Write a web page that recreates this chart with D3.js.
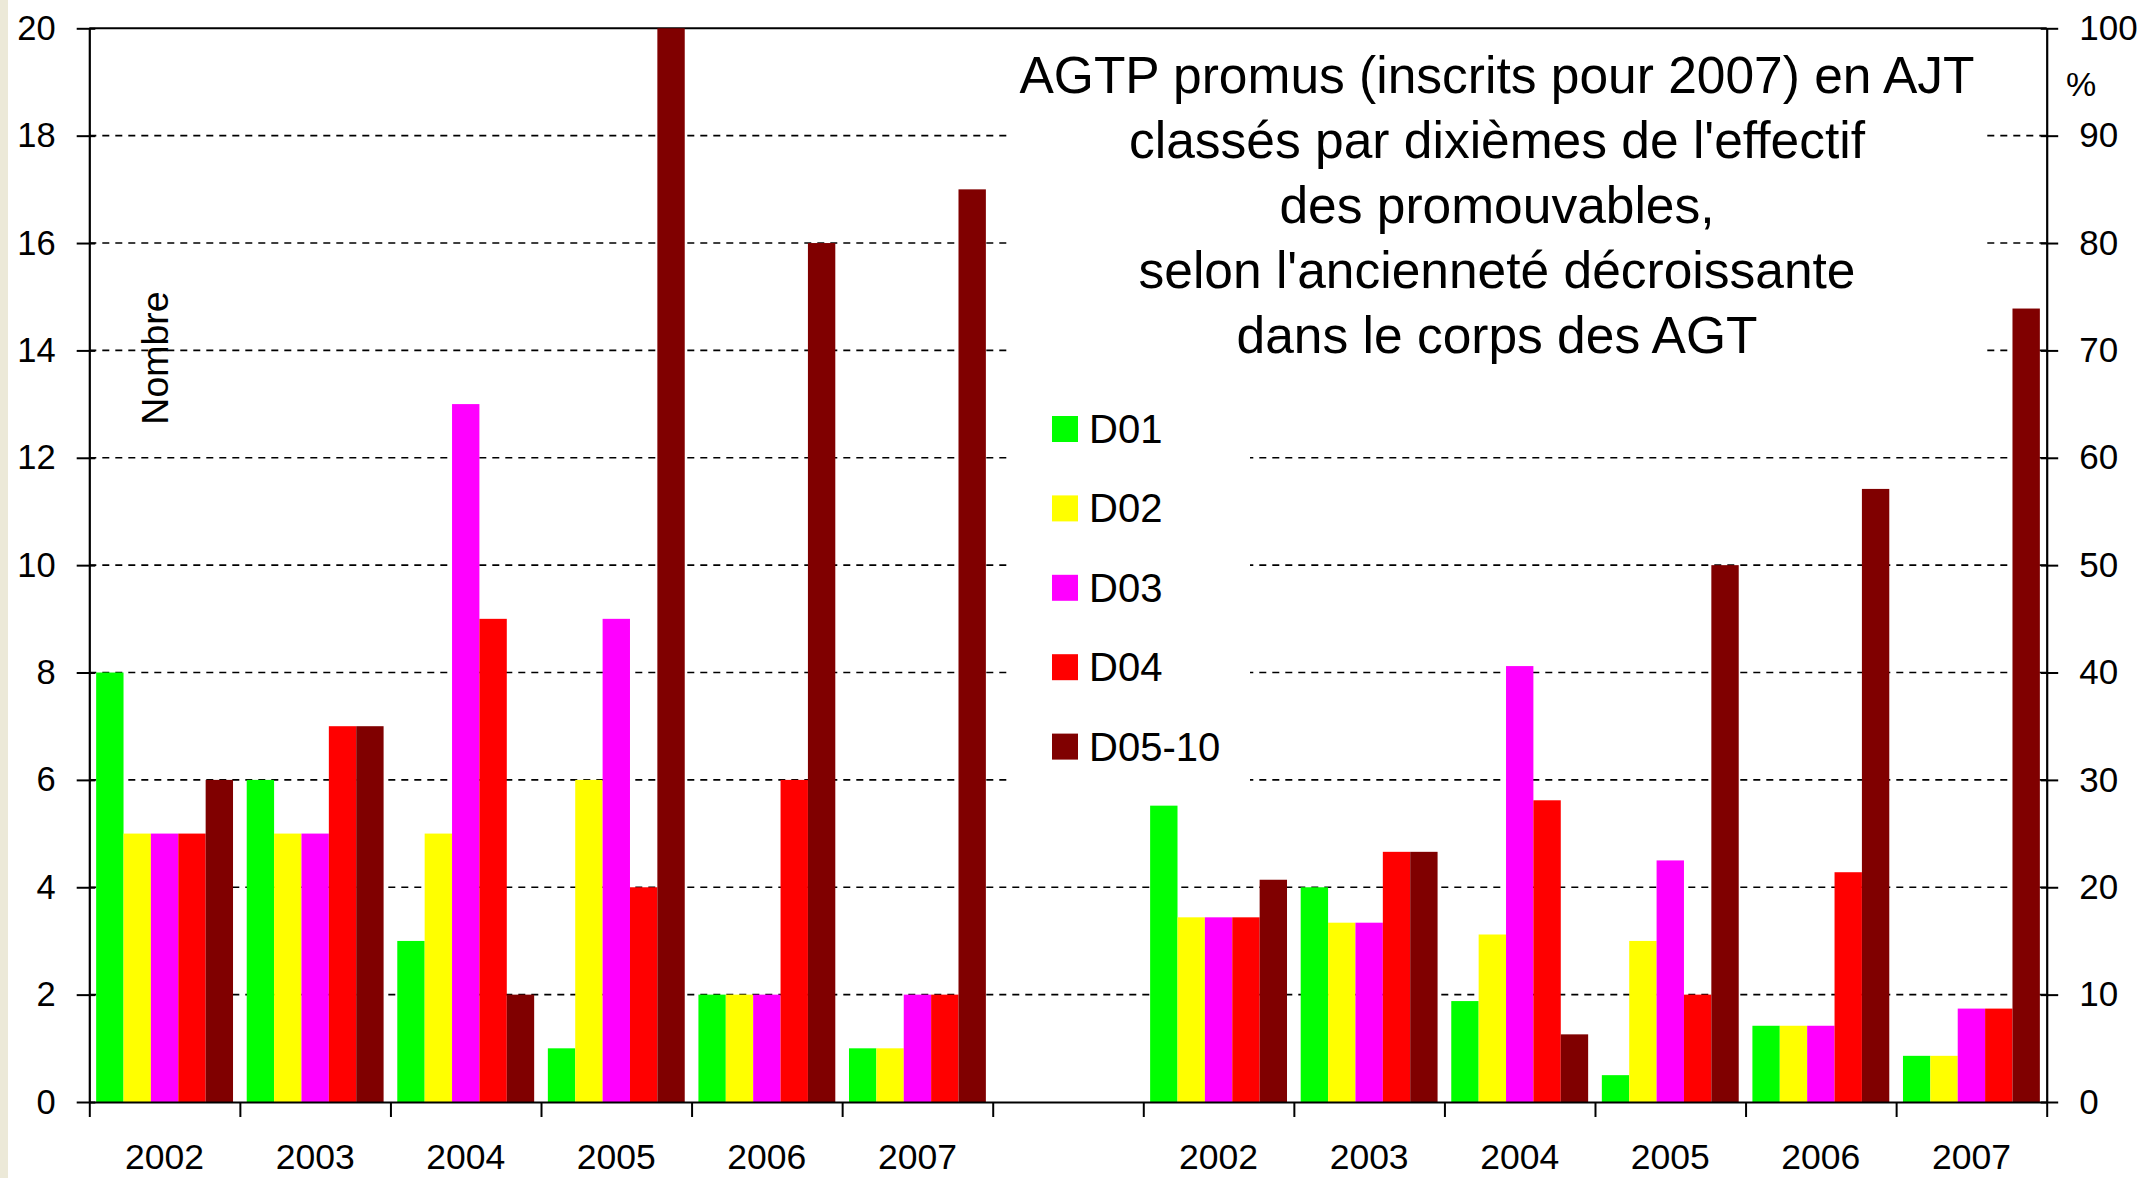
<!DOCTYPE html>
<html>
<head>
<meta charset="utf-8">
<script src="https://cdn.jsdelivr.net/npm/d3@7"></script>
<style>
  body { margin: 0; background: #ffffff; overflow: hidden; }
  text { font-family: "Liberation Sans", Arial, sans-serif; fill: #000; }
</style>
</head>
<body>
<div id="chart"></div>
<script>
// chart data
const years = ["2002", "2003", "2004", "2005", "2006", "2007"];
const series = ["D01", "D02", "D03", "D04", "D05-10"];
const colors = ["#00ff00", "#ffff00", "#ff00ff", "#ff0000", "#800000"];

// number of promoted per tenth (left axis)
const countD01 = [8, 6, 3, 1, 2, 1];
const countD02 = [5, 5, 5, 6, 2, 1];
const countD03 = [5, 5, 13, 9, 2, 2];
const countD04 = [5, 7, 9, 4, 6, 2];
const countD05 = [6, 7, 2, 20, 16, 17];

// share of the year in % (right axis)
const pctD01 = [27.6, 20.0, 9.4, 2.5, 7.1, 4.3];
const pctD02 = [17.2, 16.7, 15.6, 15.0, 7.1, 4.3];
const pctD03 = [17.2, 16.7, 40.6, 22.5, 7.1, 8.7];
const pctD04 = [17.2, 23.3, 28.1, 10.0, 21.4, 8.7];
const pctD05 = [20.7, 23.3, 6.3, 50.0, 57.1, 73.9];

const leftTicks = [0, 2, 4, 6, 8, 10, 12, 14, 16, 18, 20];
const rightTicks = [0, 10, 20, 30, 40, 50, 60, 70, 80, 90, 100];

const titleLines = [
  "AGTP promus (inscrits pour 2007) en AJT",
  "classés par dixièmes de l'effectif",
  "des promouvables,",
  "selon l'ancienneté décroissante",
  "dans le corps des AGT"
];

const counts = [countD01, countD02, countD03, countD04, countD05];
const pcts = [pctD01, pctD02, pctD03, pctD04, pctD05];

const width = 2141, height = 1178;
const plot = {left: 89.3, right: 2046.7, top: 28.3, bottom: 1102};

let svg = d3.select("#chart")
    .append("svg")
    .attr("width", width)
    .attr("height", height);

svg.append("rect").attr("width", width).attr("height", height).attr("fill", "#fff");
// beige strip on the left edge
svg.append("rect").attr("x", 0).attr("y", 0).attr("width", 8).attr("height", height).attr("fill", "#ece9d8");

// 13 slots: 6 years, one empty, 6 years
const slots = d3.range(13);
let x0 = d3.scaleBand().domain(slots).range([plot.left, plot.right]).padding(0);
let x1 = d3.scaleBand().domain(series).range([0, x0.bandwidth()]).paddingInner(0).paddingOuter(0.25);
let xEdge = d3.scaleLinear().domain([0, 13]).range([plot.left, plot.right]);

let yL = d3.scaleLinear().domain([0, 20]).range([plot.bottom, plot.top]);
let yR = d3.scaleLinear().domain([0, 100]).range([plot.bottom, plot.top]);

// gridlines (dashed), top border solid
svg.append("g").selectAll("line")
    .data(leftTicks.filter(d => d > 0 && d < 20))
    .enter().append("line")
    .attr("x1", plot.left).attr("x2", plot.right)
    .attr("y1", d => yL(d)).attr("y2", d => yL(d))
    .attr("stroke", "#000").attr("stroke-width", 1.6)
    .attr("stroke-dasharray", "7,6");

svg.append("line")
    .attr("x1", plot.left).attr("x2", plot.right)
    .attr("y1", yL(20)).attr("y2", yL(20))
    .attr("stroke", "#000").attr("stroke-width", 2);

// bars
function addBars(values, slotOffset, yScale) {
    let rows = [];
    series.forEach(function(s, i) {
        years.forEach(function(yr, j) {
            rows.push({s: s, slot: j + slotOffset, v: values[i][j], c: colors[i]});
        });
    });
    svg.append("g").selectAll("rect")
        .data(rows)
        .enter().append("rect")
        .attr("x", d => x0(d.slot) + x1(d.s))
        .attr("width", x1.bandwidth())
        .attr("y", d => yScale(d.v))
        .attr("height", d => plot.bottom - yScale(d.v))
        .attr("fill", d => d.c);
}
addBars(counts, 0, yL);
addBars(pcts, 7, yR);

// title box + title
svg.append("rect")
    .attr("x", 1010).attr("y", 33).attr("width", 972).attr("height", 347)
    .attr("fill", "#fff");
let title = svg.append("text")
    .attr("text-anchor", "middle")
    .style("font-size", "51.5px");
titleLines.forEach(function(t, i) {
    title.append("tspan").attr("x", 1497).attr("y", 93 + i * 65).text(t);
});

// legend box + legend
svg.append("rect")
    .attr("x", 1010).attr("y", 390).attr("width", 240).attr("height", 400)
    .attr("fill", "#fff");
let legend = svg.append("g").selectAll("g")
    .data(series)
    .enter().append("g")
    .attr("transform", (d, i) => `translate(1052, ${429 + i * 79.4})`);
legend.append("rect")
    .attr("x", 0).attr("y", -13).attr("width", 26).attr("height", 26)
    .attr("fill", (d, i) => colors[i]);
legend.append("text")
    .attr("x", 37).attr("y", 14)
    .style("font-size", "40px")
    .text(d => d);

// left axis
let axL = svg.append("g")
    .attr("transform", `translate(${plot.left},0)`)
    .call(d3.axisLeft(yL).tickValues(leftTicks).tickSize(12.6).tickPadding(21).tickSizeOuter(0));
axL.select(".domain").attr("stroke-width", 2.2);
axL.selectAll(".tick line").attr("x2", -12.6).attr("x1", 6).attr("stroke-width", 2);
axL.selectAll("text").style("font-size", "34.5px").style("font-family", "Liberation Sans, Arial, sans-serif");

// right axis
let axR = svg.append("g")
    .attr("transform", `translate(${plot.right},0)`)
    .call(d3.axisRight(yR).tickValues(rightTicks).tickSize(11.5).tickPadding(21).tickSizeOuter(0));
axR.select(".domain").attr("stroke-width", 2.2);
axR.selectAll(".tick line").attr("x1", -6).attr("x2", 11.5).attr("stroke-width", 2);
axR.selectAll("text").style("font-size", "35px").style("font-family", "Liberation Sans, Arial, sans-serif");

// bottom axis: boundary ticks
let axB = svg.append("g")
    .attr("transform", `translate(0,${plot.bottom})`)
    .call(d3.axisBottom(xEdge).tickValues(d3.range(14)).tickSize(15).tickFormat("").tickSizeOuter(0));
axB.select(".domain").attr("stroke-width", 2.2);
axB.selectAll(".tick line").attr("stroke-width", 2);

// category labels
const labelSlots = slots.filter(i => i !== 6);
svg.append("g").selectAll("text")
    .data(labelSlots)
    .enter().append("text")
    .attr("x", d => x0(d) + x0.bandwidth() / 2)
    .attr("y", 1169)
    .attr("text-anchor", "middle")
    .style("font-size", "35.5px")
    .text(d => years[d < 6 ? d : d - 7]);

// axis titles
svg.append("text")
    .attr("transform", "translate(168,358) rotate(-90)")
    .attr("text-anchor", "middle")
    .style("font-size", "37.5px")
    .text("Nombre");

svg.append("text")
    .attr("x", 2066).attr("y", 96)
    .style("font-size", "34px")
    .text("%");
</script>
</body>
</html>
